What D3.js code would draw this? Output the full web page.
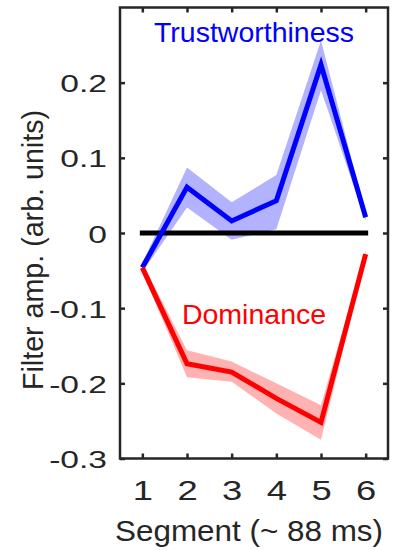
<!DOCTYPE html>
<html>
<head>
<meta charset="utf-8">
<script src="https://cdn.jsdelivr.net/npm/d3@7"></script>
<style>
  body { margin: 0; background: #fff; }
  svg { display: block; font-family: "Liberation Sans", Arial, Helvetica, sans-serif; }
</style>
</head>
<body>
<svg id="chart" width="394" height="550"></svg>
<script>
// segment index (~88 ms each)
var segments = [1, 2, 3, 4, 5, 6];
var xTicks = [1, 2, 3, 4, 5, 6];
var yTicks = [-0.3, -0.2, -0.1, 0, 0.1, 0.2];

// trustworthiness filter amplitude, with shaded error band
var trust   = [-0.046, 0.061, 0.016, 0.043, 0.224, 0.021];
var trustLo = [-0.052, 0.034, -0.009, 0.005, 0.190, 0.016];
var trustHi = [-0.040, 0.087, 0.041, 0.077, 0.256, 0.026];

// dominance filter amplitude, with shaded error band
var dom   = [-0.046, -0.174, -0.185, -0.220, -0.252, -0.028];
var domLo = [-0.052, -0.192, -0.198, -0.240, -0.275, -0.033];
var domHi = [-0.040, -0.156, -0.171, -0.200, -0.229, -0.023];

var ink = '#262626';
var margin = {top: 7.5, left: 120, right: 6, bottom: 91.5};
var svg = d3.select('#chart');
var W = +svg.attr('width'), H = +svg.attr('height');
var width = W - margin.left - margin.right;
var height = H - margin.top - margin.bottom;

var x = d3.scaleLinear().domain([0.5, 6.5]).range([0, width]);
var y = d3.scaleLinear().domain([-0.3, 0.3]).range([height, 0]);

var g = svg.append('g').attr('transform', 'translate(' + margin.left + ',' + margin.top + ')');

function band(lo, hi) {
  return d3.area()
    .x(function(d, i) { return x(segments[i]); })
    .y0(function(d, i) { return y(lo[i]); })
    .y1(function(d, i) { return y(hi[i]); })(segments);
}
function line(vals) {
  return d3.line()
    .x(function(d, i) { return x(segments[i]); })
    .y(function(d) { return y(d); })(vals);
}

g.append('path').attr('d', band(trustLo, trustHi)).attr('fill', '#0000ff').attr('fill-opacity', 0.3);
g.append('path').attr('d', band(domLo, domHi)).attr('fill', '#ff0000').attr('fill-opacity', 0.3);

// zero reference line
g.append('line')
  .attr('x1', x(segments[0])).attr('x2', x(segments[segments.length - 1]))
  .attr('y1', y(0)).attr('y2', y(0))
  .attr('stroke', '#000').attr('stroke-width', 5).attr('stroke-linecap', 'square');

g.append('path').attr('d', line(trust)).attr('fill', 'none')
  .attr('stroke', '#0000ff').attr('stroke-width', 5).attr('stroke-linejoin', 'miter');
g.append('path').attr('d', line(dom)).attr('fill', 'none')
  .attr('stroke', '#ff0000').attr('stroke-width', 5).attr('stroke-linejoin', 'miter');

// axes, ticks pointing inward on all four sides
var yFmt = function(d) { return d === 0 ? '0' : d3.format('.1f')(d).replace('\u2212', '-'); };
var sx = 1.4;
var yAxis = g.append('g').call(d3.axisLeft(y).tickValues(yTicks).tickSize(-5).tickFormat(yFmt));
var yAxisR = g.append('g').attr('transform', 'translate(' + width + ',0)').call(d3.axisRight(y).tickValues(yTicks).tickSize(-5).tickFormat(''));
var xAxis = g.append('g').attr('transform', 'translate(0,' + height + ')').call(d3.axisBottom(x).tickValues(xTicks).tickSize(-5).tickFormat(d3.format('d')));
var xAxisT = g.append('g').call(d3.axisTop(x).tickValues(xTicks).tickSize(-5).tickFormat(''));

[yAxis, yAxisR, xAxis, xAxisT].forEach(function(a) {
  a.select('.domain').remove();
  a.selectAll('line').attr('stroke', ink).attr('stroke-width', 2.5);
});

yAxis.selectAll('text')
  .attr('fill', ink).attr('font-size', 24).attr('font-family', null)
  .attr('x', -13 / sx).attr('dy', 9)
  .attr('transform', 'scale(' + sx + ',1)');

xAxis.selectAll('text')
  .attr('fill', ink).attr('font-size', 28).attr('font-family', null)
  .attr('y', 0).attr('dy', 41.5)
  .attr('transform', 'scale(1.3,1)');

// frame
g.append('rect').attr('width', width).attr('height', height)
  .attr('fill', 'none').attr('stroke', ink).attr('stroke-width', 2.5);

// series labels
g.append('text').attr('x', x(3.5)).attr('y', 34).attr('text-anchor', 'middle')
  .attr('font-size', 28).attr('fill', '#0000ff')
  .attr('textLength', 200).attr('lengthAdjust', 'spacingAndGlyphs')
  .text('Trustworthiness');
g.append('text').attr('x', x(3.5)).attr('y', 316).attr('text-anchor', 'middle')
  .attr('font-size', 28.5).attr('fill', '#ff0000').text('Dominance');

// axis titles
svg.append('text').attr('x', 249).attr('y', 541).attr('text-anchor', 'middle')
  .attr('font-size', 29).attr('fill', ink)
  .attr('textLength', 268).attr('lengthAdjust', 'spacingAndGlyphs')
  .text('Segment (~ 88 ms)');
svg.append('text').attr('transform', 'translate(43,250) rotate(-90)').attr('text-anchor', 'middle')
  .attr('font-size', 29).attr('fill', ink)
  .attr('textLength', 280).attr('lengthAdjust', 'spacingAndGlyphs')
  .text('Filter amp. (arb. units)');
</script>
</body>
</html>
